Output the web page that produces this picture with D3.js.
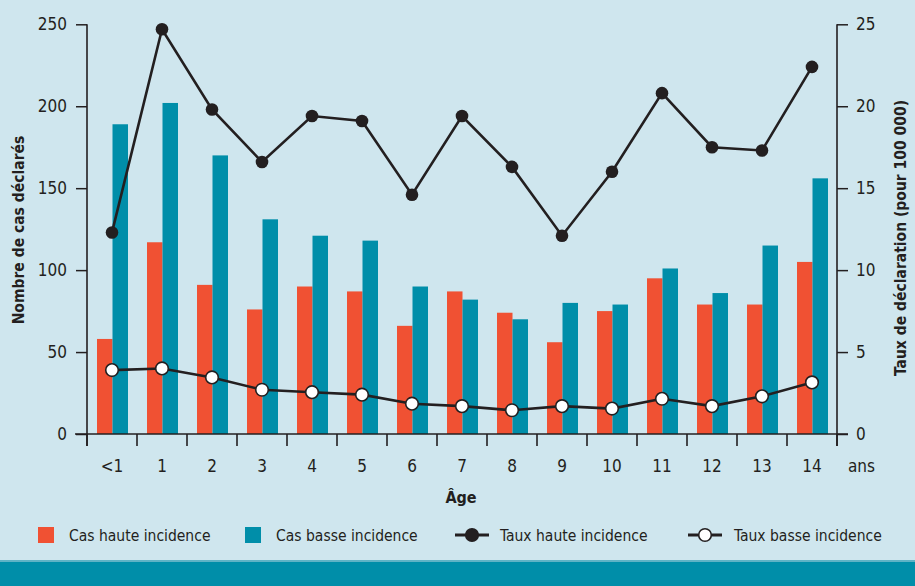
<!DOCTYPE html>
<html>
<head>
<meta charset="utf-8">
<script src="https://cdn.jsdelivr.net/npm/d3@7"></script>
<style>
  html, body { margin: 0; padding: 0; background: #cfe6ee; }
  svg { display: block; }
  text { font-family: "Liberation Sans Narrow", "DejaVu Sans Condensed", "Open Sans", sans-serif; fill: #231f20; }
</style>
</head>
<body>
<svg id="chart" width="915" height="586"></svg>
<script>
const ages = ["<1","1","2","3","4","5","6","7","8","9","10","11","12","13","14"];
const casHaute = [58,117,91,76,90,87,66,87,74,56,75,95,79,79,105];
const casBasse = [189,202,170,131,121,118,90,82,70,80,79,101,86,115,156];
const tauxHaute = [12.3,24.7,19.8,16.6,19.4,19.1,14.6,19.4,16.3,12.1,16.0,20.8,17.5,17.3,22.4];
const tauxBasse = [3.9,4.0,3.45,2.7,2.55,2.4,1.85,1.7,1.45,1.7,1.55,2.15,1.7,2.3,3.15];
const leftTicks = [0,50,100,150,200,250];
const rightTicks = [0,5,10,15,20,25];
const legendLabels = ["Cas haute incidence","Cas basse incidence","Taux haute incidence","Taux basse incidence"];

const C_ORANGE = "#f05133", C_TEAL = "#008ea9", C_INK = "#231f20", C_BG = "#cfe6ee";

const svg = d3.select("#chart");
svg.append("rect").attr("width",915).attr("height",586).attr("fill",C_BG);
// bottom band
svg.append("rect").attr("x",0).attr("y",560).attr("width",915).attr("height",2).attr("fill","#5fb3c6");
svg.append("rect").attr("x",0).attr("y",562).attr("width",915).attr("height",24).attr("fill",C_TEAL);

const x0 = 87, x1 = 837, yTop = 24.3, yBot = 434;
const x = d3.scaleBand().domain(ages).range([x0, x1]);
const xs = d3.scaleBand().domain(["h","b"]).range([x.bandwidth()*0.2, x.bandwidth()*0.82]);
const yL = d3.scaleLinear().domain([0,250]).range([yBot, yTop]);
const yR = d3.scaleLinear().domain([0,25]).range([yBot, yTop]);

const g = svg.append("g");

// bars
ages.forEach((a,i) => {
  g.append("rect").attr("x", x(a)+xs("h")).attr("y", yL(casHaute[i]))
    .attr("width", xs.bandwidth()).attr("height", yL(0)-yL(casHaute[i])).attr("fill", C_ORANGE);
  g.append("rect").attr("x", x(a)+xs("b")).attr("y", yL(casBasse[i]))
    .attr("width", xs.bandwidth()).attr("height", yL(0)-yL(casBasse[i])).attr("fill", C_TEAL);
});

// axes
const axL = g.append("g").attr("transform",`translate(${x0},0)`)
  .call(d3.axisLeft(yL).tickValues(leftTicks).tickSize(11).tickPadding(9));
const axR = g.append("g").attr("transform",`translate(${x1},0)`)
  .call(d3.axisRight(yR).tickValues(rightTicks).tickSize(11).tickPadding(8));
[axL, axR].forEach(ax => {
  ax.select(".domain").remove();
  ax.selectAll("line").attr("stroke", C_INK).attr("stroke-width",1.5);
  ax.selectAll("text").attr("font-size","17px").style("font-family",'"Liberation Sans Narrow","DejaVu Sans Condensed",sans-serif').attr("fill",C_INK);
});
const axisStroke = {stroke: C_INK, "stroke-width": 1.6};
function line(x1_,y1_,x2_,y2_){ const l=g.append("line").attr("x1",x1_).attr("y1",y1_).attr("x2",x2_).attr("y2",y2_); Object.entries(axisStroke).forEach(([k,v])=>l.attr(k,v)); return l; }
line(x0, yTop, x0, yBot+12);
line(x1, yTop, x1, yBot+12);
line(x0-12, yBot, x1+11, yBot);
// x ticks at band boundaries
const bounds = ages.map(a => x(a)).concat([x1]);
bounds.forEach(b => line(b, yBot, b, yBot+12));
// x labels
g.selectAll(".xl").data(ages).join("text")
  .attr("x", d => x(d)+x.bandwidth()/2).attr("y", 472)
  .attr("text-anchor","middle").attr("font-size","17px").text(d=>d);
g.append("text").attr("x", 848).attr("y", 472).attr("font-size","17px").text("ans");
g.append("text").attr("x", 461).attr("y", 503).attr("text-anchor","middle")
  .attr("font-size","16px").attr("font-weight","bold").text("Âge");

// axis titles
g.append("text").attr("transform","translate(24,230) rotate(-90)").attr("text-anchor","middle")
  .attr("font-size","15.5px").attr("font-weight","bold").text("Nombre de cas déclarés");
g.append("text").attr("transform","translate(906,238) rotate(-90)").attr("text-anchor","middle")
  .attr("font-size","15.5px").attr("font-weight","bold").text("Taux de déclaration (pour 100 000)");

// lines
const cx = (d,i) => x(ages[i]) + x.bandwidth()/2;
const lineGen = d3.line().x((d,i)=>cx(d,i)).y(d=>yR(d));
g.append("path").attr("d", lineGen(tauxHaute)).attr("fill","none").attr("stroke",C_INK).attr("stroke-width",2.6);
g.append("path").attr("d", lineGen(tauxBasse)).attr("fill","none").attr("stroke",C_INK).attr("stroke-width",2.6);
g.selectAll(".dh").data(tauxHaute).join("circle")
  .attr("cx",(d,i)=>cx(d,i)).attr("cy",d=>yR(d)).attr("r",6.3).attr("fill",C_INK);
g.selectAll(".db").data(tauxBasse).join("circle")
  .attr("cx",(d,i)=>cx(d,i)).attr("cy",d=>yR(d)).attr("r",6.3).attr("fill","#fff")
  .attr("stroke",C_INK).attr("stroke-width",1.6);

// legend
const leg = svg.append("g");
const ly = 535;
const legX = [38, 245, 455, 688];
const legTextX = [69, 276, 500, 734];
leg.append("rect").attr("x",legX[0]).attr("y",527).attr("width",16).attr("height",16).attr("fill",C_ORANGE);
leg.append("rect").attr("x",legX[1]).attr("y",527).attr("width",16).attr("height",16).attr("fill",C_TEAL);
[2,3].forEach(k => {
  leg.append("line").attr("x1",legX[k]).attr("x2",legX[k]+34).attr("y1",ly).attr("y2",ly)
    .attr("stroke",C_INK).attr("stroke-width",3);
  leg.append("circle").attr("cx",legX[k]+17).attr("cy",ly).attr("r",6.3)
    .attr("fill", k===2 ? C_INK : "#fff").attr("stroke",C_INK).attr("stroke-width",1.6);
});
legendLabels.forEach((t,k) => {
  leg.append("text").attr("x",legTextX[k]).attr("y",541).attr("font-size","15.5px").text(t);
});
</script>
</body>
</html>
